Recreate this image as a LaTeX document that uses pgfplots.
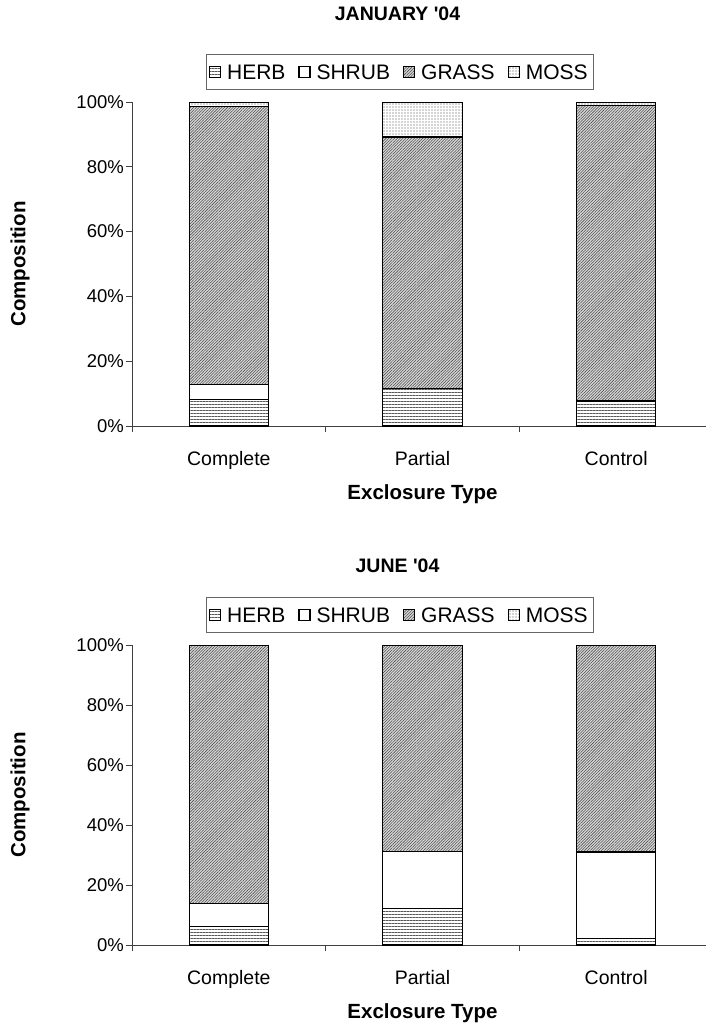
\documentclass[border=0pt]{standalone}
\usepackage{fontspec}
\setmainfont{Liberation Sans}
\usepackage{pgfplots}
\pgfplotsset{compat=1.18}
\usetikzlibrary{patterns,patterns.meta}
\pgfplotsset{
  herb/.style={draw=black, line width=1.1pt, fill=white,
    postaction={pattern={Lines[angle=0,distance=3pt,line width=0.8pt]}, pattern color=black!65}},
  shrub/.style={draw=black, line width=1.1pt, fill=white},
  grass/.style={draw=black, line width=1.1pt, fill=black!15,
    postaction={pattern={Lines[angle=45,distance=2pt,line width=0.55pt]}, pattern color=black!70}},
  moss/.style={draw=black, line width=1.1pt, fill=white,
    postaction={pattern={Dots[distance=3pt,radius=0.55pt]}, pattern color=black!70}},
  myaxis/.style={
    scale only axis, width=581pt,
    ybar stacked, bar width=0.41,
    xmin=-0.5, xmax=2.5, ymin=0, ymax=100,
    axis x line*=bottom, axis y line*=left,
    axis line style={draw=black!75, line width=0.8pt, -},
    x axis line style={shorten <=-6pt},
    xtick={-0.5,0.5,1.5,2.5}, xticklabels={},
    extra x ticks={0,1,2}, extra x tick labels={Complete,Partial,Control},
    extra x tick style={major tick length=0pt},
    ytick={0,20,40,60,80,100},
    yticklabel={\pgfmathprintnumber{\tick}\%},
    tick align=outside, major tick length=6pt,
    tick style={draw=black!75, line width=0.8pt},
    /pgf/number format/assume math mode=true,
    tick label style={font=\fontsize{19.5}{22}\selectfont},
    yticklabel style={anchor=east, inner sep=0pt, xshift=-2pt, font=\fontsize{18.5}{22}\selectfont},
    xticklabel style={anchor=base, yshift=-39pt},
    ylabel={Composition},
    ylabel style={at={(axis description cs:-0.1928,0.5)}, anchor=center, font=\fontsize{20.5}{24}\selectfont\bfseries},
    xlabel={Exclosure Type},
    xlabel style={at={(axis description cs:0.5,0)}, anchor=center, yshift=-68pt, font=\fontsize{20.5}{24}\selectfont\bfseries},
    legend columns=4,
    area legend,
    legend image code/.code={\draw[#1] (0pt,-5.5pt) rectangle (11pt,5.5pt);},
    legend style={at={(axis description cs:0.461,1)}, anchor=south, yshift=12pt,
      draw=black!60, line width=0.8pt, font=\fontsize{21}{24}\selectfont,
      inner xsep=3pt, inner ysep=7pt,
      nodes={text height=15pt, text depth=0pt, inner sep=3pt},
      /tikz/every odd column/.append style={column sep=3pt},
      /tikz/every even column/.append style={column sep=10pt}},
    title style={at={(axis description cs:0.457,1)}, anchor=center, font=\fontsize{19.5}{22}\selectfont\bfseries},
  }
}
\begin{document}
\begin{tikzpicture}
\path[use as bounding box] (0pt,0pt) rectangle (706pt,-1025pt);
\begin{axis}[myaxis, height=324pt, at={(132pt,-426pt)}, anchor=south west,
  title={JANUARY \textquotesingle 04}, title style={yshift=82pt}]
\addplot[herb] coordinates {(0,8.3) (1,11.7) (2,7.6)};
\addplot[shrub] coordinates {(0,4.4) (1,0) (2,0.3)};
\addplot[grass] coordinates {(0,85.8) (1,77.5) (2,91.1)};
\addplot[moss] coordinates {(0,1.5) (1,10.8) (2,1.0)};
\legend{HERB,SHRUB,GRASS,MOSS}
\end{axis}
\begin{axis}[myaxis, height=300pt, at={(132pt,-945pt)}, anchor=south west,
  title={JUNE \textquotesingle 04}, title style={yshift=73pt}]
\addplot[herb] coordinates {(0,6.1) (1,12.1) (2,2.1)};
\addplot[shrub] coordinates {(0,7.8) (1,19.2) (2,28.9)};
\addplot[grass] coordinates {(0,86.1) (1,68.7) (2,69.0)};
\addplot[moss] coordinates {(0,0) (1,0) (2,0)};
\legend{HERB,SHRUB,GRASS,MOSS}
\end{axis}
\end{tikzpicture}
\end{document}
